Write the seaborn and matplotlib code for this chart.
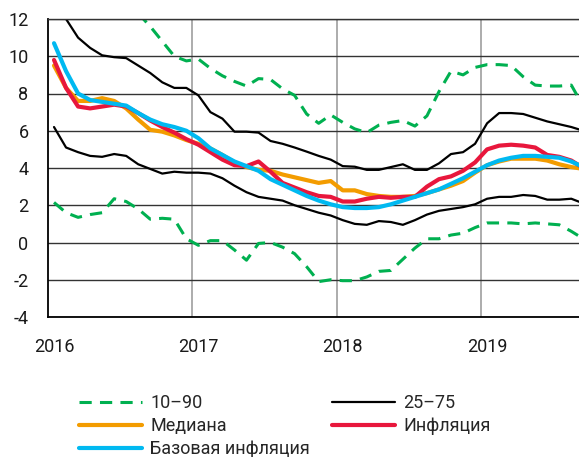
import numpy as np
import pandas as pd
import seaborn as sns
from matplotlib import pyplot as plt
from matplotlib.lines import Line2D

sns.set_style('white')
plt.rcParams['font.family'] = ['Roboto', 'DejaVu Sans']

# месяцы: январь 2016 - сентябрь 2019
months = pd.period_range('2016-01', '2019-09', freq='M').astype(str)

# 10-90 перцентили
p90 = [np.nan, np.nan, np.nan, np.nan, np.nan, np.nan, np.nan, 12.3, 11.6, 10.8,
       10.0, 9.75, 9.85, 9.35, 8.95, 8.65, 8.4, 8.8, 8.75, 8.25,
       7.9, 6.9, 6.4, 6.85, 6.45, 6.1, 5.9, 6.3, 6.45, 6.55,
       6.25, 6.8, 8.1, 9.2, 9.0, 9.4, 9.55, 9.55, 9.5, 8.9,
       8.45, 8.4, 8.4, 8.45, 7.3]
p10 = [2.15, 1.6, 1.35, 1.5, 1.6, 2.35, 2.2, 1.8, 1.25, 1.3,
       1.25, 0.2, -0.15, 0.1, 0.1, -0.4, -0.95, -0.05, 0.0, -0.25,
       -0.6, -1.3, -2.1, -2.0, -2.05, -2.05, -1.85, -1.55, -1.5, -0.9,
       -0.3, 0.2, 0.2, 0.4, 0.5, 0.8, 1.05, 1.05, 1.05, 1.0,
       1.05, 1.0, 0.95, 0.6, 0.2]
# 25-75 перцентили
p75 = [12.6, 12.0, 11.0, 10.45, 10.05, 9.95, 9.9, 9.5, 9.1, 8.6,
       8.3, 8.3, 7.9, 7.0, 6.65, 5.95, 5.95, 5.9, 5.45, 5.3,
       5.1, 4.88, 4.65, 4.45, 4.1, 4.07, 3.9, 3.9, 4.05, 4.2,
       3.9, 3.9, 4.25, 4.75, 4.85, 5.3, 6.4, 6.95, 6.95, 6.9,
       6.7, 6.5, 6.35, 6.2, 6.0]
p25 = [6.2, 5.1, 4.85, 4.65, 4.6, 4.75, 4.65, 4.2, 3.95, 3.7,
       3.8, 3.75, 3.75, 3.7, 3.45, 3.05, 2.7, 2.45, 2.35, 2.25,
       2.0, 1.8, 1.6, 1.45, 1.2, 1.0, 0.95, 1.15, 1.1, 0.95,
       1.2, 1.5, 1.7, 1.8, 1.9, 2.05, 2.35, 2.45, 2.45, 2.55,
       2.5, 2.3, 2.3, 2.35, 2.1]
median = [9.5, 8.3, 7.6, 7.6, 7.75, 7.6, 7.2, 6.6, 6.05, 5.95,
          5.75, 5.5, 5.3, 5.05, 4.7, 4.3, 4.05, 3.9, 3.85, 3.65,
          3.5, 3.35, 3.2, 3.3, 2.8, 2.8, 2.6, 2.5, 2.45, 2.45,
          2.5, 2.65, 2.85, 3.05, 3.3, 3.75, 4.15, 4.35, 4.5, 4.5,
          4.5, 4.4, 4.2, 4.05, 3.95]
inflation = [9.8, 8.3, 7.3, 7.2, 7.3, 7.4, 7.3, 6.95, 6.55, 6.2,
             5.9, 5.55, 5.25, 4.85, 4.45, 4.15, 4.1, 4.35, 3.8, 3.2,
             2.95, 2.7, 2.5, 2.45, 2.2, 2.2, 2.35, 2.45, 2.4, 2.45,
             2.45, 3.0, 3.4, 3.55, 3.85, 4.3, 5.0, 5.2, 5.25, 5.2,
             5.1, 4.7, 4.6, 4.4, 4.0]
core = [10.7, 9.2, 8.0, 7.65, 7.55, 7.45, 7.35, 6.95, 6.6, 6.35,
        6.2, 6.0, 5.6, 5.05, 4.7, 4.35, 4.1, 3.85, 3.4, 3.1,
        2.8, 2.5, 2.25, 2.05, 1.9, 1.85, 1.85, 1.9, 2.05, 2.25,
        2.45, 2.65, 2.85, 3.15, 3.45, 3.8, 4.15, 4.4, 4.55, 4.65,
        4.65, 4.6, 4.55, 4.35, 4.05]

year_labels = ['2016', '2017', '2018', '2019']

df = pd.DataFrame({'month': months, 'p90': p90, 'p10': p10, 'p75': p75, 'p25': p25,
                   'median': median, 'inflation': inflation, 'core': core})
df['x'] = np.arange(len(df))

GREEN = '#00b050'
ORANGE = '#f39c00'
RED = '#e8173c'
BLUE = '#00b9f1'
FS = 13

fig = plt.figure(figsize=(5.79, 4.57), dpi=100)
ax = fig.add_axes([48 / 579, 140 / 457, 531 / 579, 298 / 457])

dash = (4, 2.7)
sns.lineplot(data=df, x='x', y='p90', ax=ax, color=GREEN, lw=2.2, linestyle=(0, dash))
sns.lineplot(data=df, x='x', y='p10', ax=ax, color=GREEN, lw=2.2, linestyle=(0, dash))
sns.lineplot(data=df, x='x', y='p75', ax=ax, color='black', lw=1.6)
sns.lineplot(data=df, x='x', y='p25', ax=ax, color='black', lw=1.6)
sns.lineplot(data=df, x='x', y='median', ax=ax, color=ORANGE, lw=3)
sns.lineplot(data=df, x='x', y='inflation', ax=ax, color=RED, lw=3)
sns.lineplot(data=df, x='x', y='core', ax=ax, color=BLUE, lw=3)

ax.set_xlim(-0.5, 43.64)
ax.set_ylim(-4, 12)
ax.set_yticks(range(-4, 13, 2))
ax.set_yticklabels([str(v) for v in range(-4, 13, 2)])
ax.set_xticks([0, 12, 24, 36])
ax.set_xticklabels(year_labels)
ax.set_xticks([11.5, 23.5, 35.5], minor=True)
ax.tick_params(axis='both', which='both', length=0, labelsize=FS, colors='#1a1a1a')
ax.tick_params(axis='y', pad=14)
ax.tick_params(axis='x', pad=15)
ax.set_xlabel('')
ax.set_ylabel('')

ax.grid(True, axis='y', which='major', color='#333333', lw=1)
ax.grid(True, axis='x', which='minor', color='#a6a6a6', lw=1.3)
ax.grid(False, axis='x', which='major')
ax.set_axisbelow(True)

for side in ['left', 'bottom']:
    ax.spines[side].set_color('black')
    ax.spines[side].set_linewidth(1.3)
ax.spines['top'].set_color('#333333')
ax.spines['top'].set_linewidth(1)
ax.spines['right'].set_visible(False)

# легенда: две колонки
leg_kw = dict(loc='upper left', frameon=False, fontsize=FS, handlelength=3.5,
              handletextpad=0.45, labelspacing=0.28, borderpad=0, borderaxespad=0)
col1 = [Line2D([], [], color=GREEN, lw=2.2, linestyle=(0, dash)),
        Line2D([], [], color=ORANGE, lw=3),
        Line2D([], [], color=BLUE, lw=3)]
col2 = [Line2D([], [], color='black', lw=1.6),
        Line2D([], [], color=RED, lw=3)]
fig.legend(col1, ['10–90', 'Медиана', 'Базовая инфляция'],
           bbox_to_anchor=(79 / 579, 1 - 394 / 457), **leg_kw)
fig.legend(col2, ['25–75', 'Инфляция'],
           bbox_to_anchor=(332 / 579, 1 - 394 / 457), **leg_kw)

plt.savefig('out.png', dpi=100)
plt.close()
